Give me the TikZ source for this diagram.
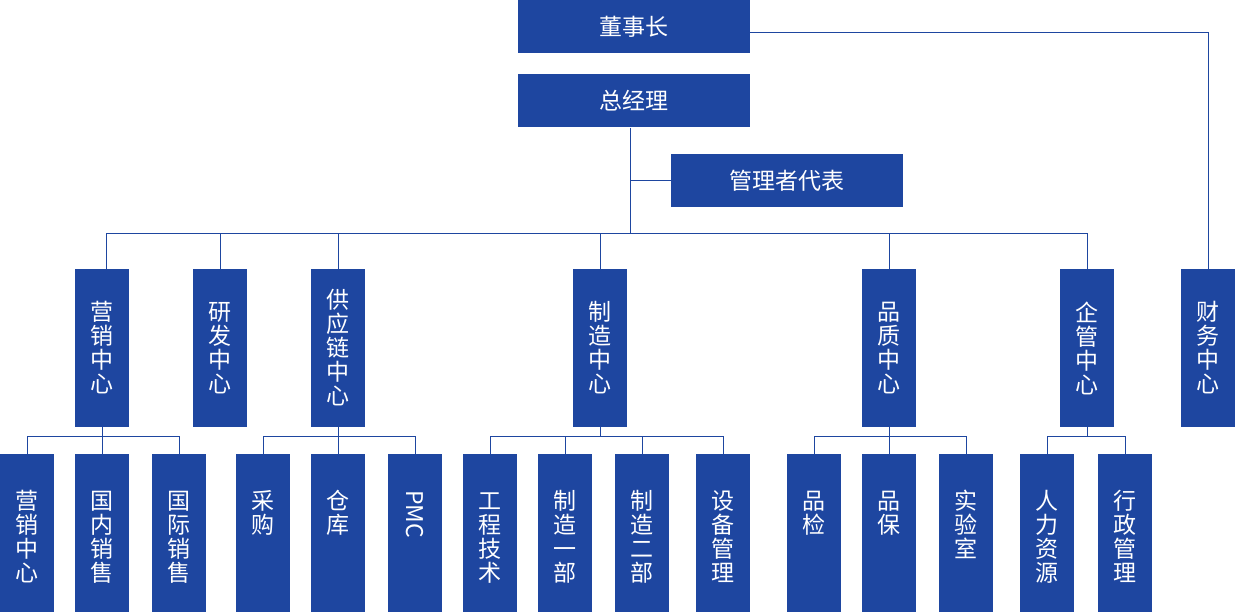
\documentclass[tikz,border=0pt]{standalone}
\usepackage{fontspec}
\newfontfamily\cjk{Noto Sans CJK SC}
\usetikzlibrary{positioning}
\definecolor{orgblue}{RGB}{30,70,160}
\newcommand{\colstack}[1]{\vtop{\let\\\cr\halign{\hfil##\hfil\cr#1\crcr}}}

\begin{document}
\begin{tikzpicture}[
        x=1pt, y=-1pt,
        box/.style={fill=orgblue, text=white, inner sep=0pt, font=\cjk\fontsize{23}{24}\selectfont},
        topbox/.style={box, minimum width=232pt, minimum height=53pt},
        midbox/.style={box, align=center, minimum width=54pt, minimum height=158pt},
        subbox/.style={box, anchor=north, minimum width=54pt, text height=55pt, text depth=103pt},
        conn/.style={draw=orgblue, line width=0.8pt}
    ]
        \useasboundingbox (0,0) rectangle (1235,612);
        \node[topbox] (boss) at (634,26.5) {董事长};
        \node[topbox, below=21pt of boss] (gm) {总经理};
        \node[topbox] (rep) at (787,180.5) {管理者代表};

        \node[midbox] (mkt) at (102,348) {营\\销\\中\\心};
        \node[midbox] (rd) at (220,348) {研\\发\\中\\心};
        \node[midbox] (sup) at (338,348) {供\\应\\链\\中\\心};
        \node[midbox] (mfg) at (600,348) {制\\造\\中\\心};
        \node[midbox] (qa) at (889,348) {品\\质\\中\\心};
        \node[midbox] (adm) at (1087,348) {企\\管\\中\\心};
        \node[midbox] (fin) at (1208,348) {财\\务\\中\\心};

        \node[subbox] (mkt1) at (27,454) {\colstack{营\\销\\中\\心}};
        \node[subbox] (mkt2) at (102,454) {\colstack{国\\内\\销\\售}};
        \node[subbox] (mkt3) at (179,454) {\colstack{国\\际\\销\\售}};
        \node[subbox] (sup1) at (263,454) {\colstack{采\\购}};
        \node[subbox] (sup2) at (338,454) {\colstack{仓\\库}};
        \node[subbox] (sup3) at (415,454) {\raisebox{19pt}{\rotatebox{-90}{PMC}}};
        \node[subbox] (mfg1) at (490,454) {\colstack{工\\程\\技\\术}};
        \node[subbox] (mfg2) at (565,454) {\colstack{制\\造\\一\\部}};
        \node[subbox] (mfg3) at (642,454) {\colstack{制\\造\\二\\部}};
        \node[subbox] (mfg4) at (723,454) {\colstack{设\\备\\管\\理}};
        \node[subbox] (qa1) at (814,454) {\colstack{品\\检}};
        \node[subbox] (qa2) at (889,454) {\colstack{品\\保}};
        \node[subbox] (qa3) at (966,454) {\colstack{实\\验\\室}};
        \node[subbox] (adm1) at (1047,454) {\colstack{人\\力\\资\\源}};
        \node[subbox] (adm2) at (1125,454) {\colstack{行\\政\\管\\理}};

        \coordinate (bus) at (630,233);
        \draw[conn] (bus |- gm.south) -- (bus);
        \draw[conn] (rep.west) -- (rep.west -| bus);
        \draw[conn] ([xshift=4pt]mkt.north) |- (bus);
        \foreach \n in {rd,sup,mfg,qa,adm}
            \draw[conn] (\n.north) |- (bus);
        \draw[conn] ([yshift=-5.5pt]boss.east) -| (fin.north);

        \foreach \p/\kids in {mkt/{mkt1,mkt2,mkt3}, sup/{sup1,sup2,sup3}, mfg/{mfg1,mfg2,mfg3,mfg4}, qa/{qa1,qa2,qa3}, adm/{adm1,adm2}} {
            \coordinate[below=9pt of \p] (\p bus);
            \draw[conn] (\p.south) -- (\p bus);
            \foreach \k in \kids
                \draw[conn] (\k.north) |- (\p bus);
        }
    \end{tikzpicture}
\end{document}
